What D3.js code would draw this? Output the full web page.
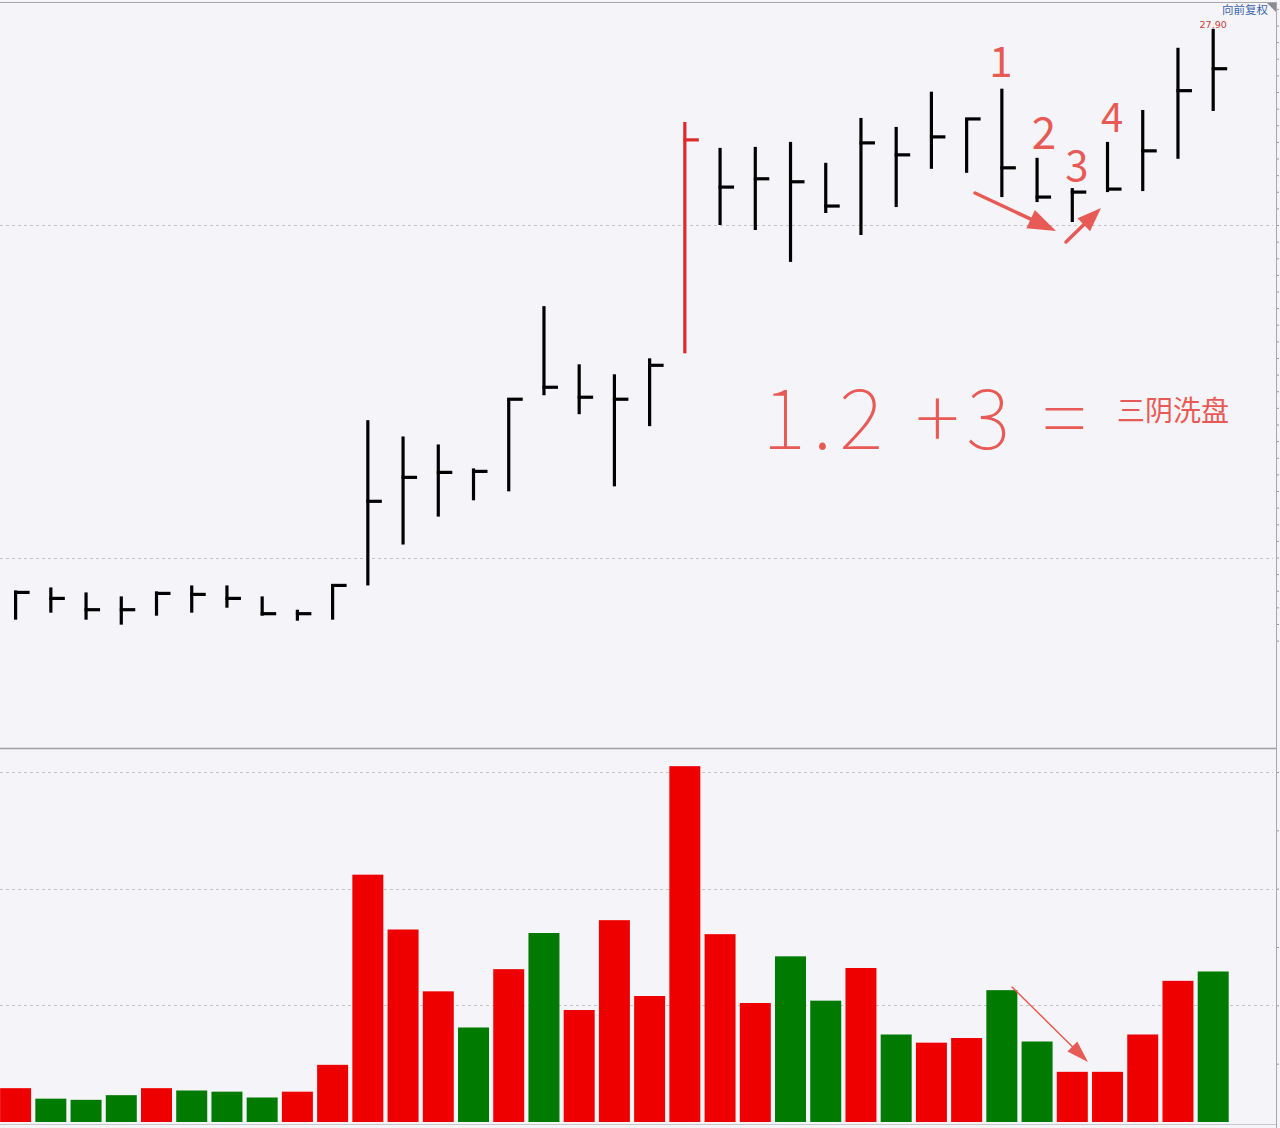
<!DOCTYPE html>
<html><head><meta charset="utf-8">
<script src="https://cdn.jsdelivr.net/npm/d3@7"></script>
<style>
html,body{margin:0;padding:0;background:#f5f5f9;}
svg{display:block;}
</style></head>
<body>
<svg id="chart" width="1280" height="1128"></svg>
<script>
// ---- data ----
const days = d3.range(1, 36);
const highs  = [11.01,11.10,10.95,10.83,10.98,11.16,11.16,10.83,10.43,11.19,16.13,15.64,15.40,14.68,16.79,19.56,17.81,17.51,17.99,25.10,24.32,24.35,24.50,23.87,25.22,24.95,26.01,25.22,26.10,24.02,23.11,24.50,25.46,27.33,27.90];
const lows   = [10.13,10.34,10.13, 9.98,10.25,10.34,10.49,10.25,10.10,10.13,11.16,12.39,13.23,13.72,13.99,16.88,16.31,14.14,15.95,18.14,22.00,21.85,20.89,22.36,21.70,22.54,23.69,23.57,22.84,22.69,22.09,22.99,23.02,23.99,25.43];
const closes = [10.95,10.77,10.43,10.43,10.92,10.89,10.77,10.31,10.31,11.16,13.69,14.41,14.56,14.59,16.76,17.12,16.82,16.76,17.78,24.56,23.14,23.39,23.30,22.57,24.47,24.11,24.65,25.19,23.72,22.84,22.99,23.08,24.23,26.04,26.70];
const volumes = [29,20,19,23,29,27,26,21,26,49,212,165,112,81,131,162,96,173,108,305,161,102,142,104,132,75,68,72,113,69,43,43,75,121,129];
const upDay  = [1,0,0,0,1,0,0,0,1,1,1,1,1,0,1,0,1,1,1,1,1,1,0,0,1,0,1,1,0,0,1,1,1,1,0];
const highlightDay = 20;
const priceGrid = [12, 22];
const volGrid = [100, 200, 300];
const maxLabel = "27.90";
const adjLabel = "向前复权";
const noteNums = ["1","2","3","4"];
const noteFormula = "1.2 +3 =";
const noteText = "三阴洗盘";

// ---- layout ----
const svg = d3.select("#chart");
const W = 1280, H = 1128;
const plotRight = 1273, axisX = 1276;
const RED = "#ee0000", GREEN = "#007a00", NOTE = "#e85a55";

const x = d3.scaleBand().domain(days).range([-2, 1230.8]).paddingInner(0.12).paddingOuter(0.06);
const y = d3.scaleLinear().domain([12, 22]).range([557.5, 225]);
const yv = d3.scaleLinear().domain([0, 300]).range([1122, 772]);
const cx = d => x(d) + x.bandwidth() / 2;

svg.append("rect").attr("x",0).attr("y",0).attr("width",W).attr("height",H).attr("fill","#f5f5f9");

// grid lines
const grid = svg.append("g").attr("stroke","#c4c4c8").attr("stroke-width",1).attr("stroke-dasharray","3,3");
grid.selectAll("line.p").data(priceGrid).join("line").attr("class","p")
  .attr("x1",0).attr("x2",plotRight).attr("y1",d=>Math.round(y(d))+0.5).attr("y2",d=>Math.round(y(d))+0.5);
grid.selectAll("line.v").data(volGrid).join("line").attr("class","v")
  .attr("x1",0).attr("x2",plotRight).attr("y1",d=>Math.round(yv(d))+0.5).attr("y2",d=>Math.round(yv(d))+0.5);

// borders
svg.append("line").attr("x1",0).attr("x2",axisX).attr("y1",2.5).attr("y2",2.5).attr("stroke","#a8a8ac").attr("stroke-width",1);
svg.append("line").attr("x1",0).attr("x2",axisX).attr("y1",748.5).attr("y2",748.5).attr("stroke","#a0a0a4").attr("stroke-width",1.5);
svg.append("line").attr("x1",0).attr("x2",axisX).attr("y1",1124.5).attr("y2",1124.5).attr("stroke","#c8c8cc").attr("stroke-width",1);

// right axes (tick marks only; their labels sit beyond the picture edge)
const ax1 = svg.append("g").attr("transform",`translate(${axisX},0)`)
  .call(d3.axisRight(d3.scaleLinear().domain([9.5,28.5]).range([y(9.5),y(28.5)])).ticks(38).tickSize(3).tickFormat(""));
const ax2 = svg.append("g").attr("transform",`translate(${axisX},0)`)
  .call(d3.axisRight(yv).tickValues([50,100,150,200,250,300]).tickSize(3).tickFormat(""));
[ax1, ax2].forEach(a => { a.selectAll("line").attr("stroke","#9a9aa0"); a.select(".domain").remove(); });
svg.append("line").attr("x1",axisX+0.5).attr("x2",axisX+0.5).attr("y1",2).attr("y2",1128).attr("stroke","#a8a8ac");

// corner triangle + labels
svg.append("path").attr("d",`M${axisX-9},3 L${axisX},3 L${axisX},12 Z`).attr("fill","#8c8c90");
svg.append("text").attr("x",1222).attr("y",14).attr("font-family","Noto Sans CJK SC").attr("font-size",11.5)
  .attr("fill","#3b64a8").text(adjLabel);

// volume bars
svg.append("g").selectAll("rect").data(days).join("rect")
  .attr("x", d => x(d)).attr("width", x.bandwidth())
  .attr("y", (d,i) => yv(volumes[i])).attr("height", (d,i) => yv(0) - yv(volumes[i]))
  .attr("fill", (d,i) => upDay[i] ? RED : GREEN);

// price HLC bars
const bars = svg.append("g").attr("stroke-width",3.2).attr("stroke-linecap","butt");
bars.selectAll("line.hl").data(days).join("line").attr("class","hl")
  .attr("x1", cx).attr("x2", cx)
  .attr("y1", (d,i) => y(highs[i])).attr("y2", (d,i) => y(lows[i]))
  .attr("stroke", d => d === highlightDay ? "#dd2a2a" : "#000");
bars.selectAll("line.c").data(days).join("line").attr("class","c")
  .attr("x1", d => cx(d) - 1.5).attr("x2", d => cx(d) + 14)
  .attr("y1", (d,i) => y(closes[i])).attr("y2", (d,i) => y(closes[i]))
  .attr("stroke", d => d === highlightDay ? "#dd2a2a" : "#000");

// max label
const iMax = d3.maxIndex(highs);
svg.append("text").attr("x", cx(days[iMax])).attr("y", 28).attr("text-anchor","middle")
  .attr("font-family","DejaVu Sans").attr("font-size",9.5).attr("fill","#c83a3a").text(maxLabel);

// ---- hand-written annotations ----
const note = svg.append("g").attr("fill",NOTE);
const numPos = [[1001,77,42],[1044,149,44],[1077,181,42],[1112,132,40]];
note.selectAll("text.n").data(noteNums).join("text").attr("class","n")
  .attr("x",(d,i)=>numPos[i][0]).attr("y",(d,i)=>numPos[i][1]).attr("text-anchor","middle")
  .attr("font-family","Noto Sans CJK SC").attr("font-weight",400).attr("font-size",(d,i)=>numPos[i][2]).text(d=>d);
note.append("text").attr("x",762).attr("y",449).attr("font-family","Noto Sans CJK SC").attr("font-weight",100)
  .attr("font-size",84).attr("letter-spacing",7).text(noteFormula);
note.append("text").attr("x",1117).attr("y",421).attr("font-family","Noto Sans CJK SC").attr("font-size",28)
  .text(noteText);

// arrows
function arrow(x1,y1,x2,y2,w,hl,hw){
  const a = Math.atan2(y2-y1,x2-x1), c=Math.cos(a), s=Math.sin(a);
  const bx = x2 - hl*c, by = y2 - hl*s;
  svg.append("line").attr("x1",x1).attr("y1",y1).attr("x2",bx+2*c).attr("y2",by+2*s)
    .attr("stroke",NOTE).attr("stroke-width",w).attr("stroke-linecap","round");
  svg.append("path").attr("fill",NOTE)
    .attr("d",`M${x2},${y2} L${bx - hw*s},${by + hw*c} L${bx + hw*s},${by - hw*c} Z`);
}
arrow(975,193,1056,231,3.5,28,10);
arrow(1066,242,1101,208,3.5,24,9);
arrow(1012,987,1088,1062,1.5,22,7);
</script>
</body></html>
